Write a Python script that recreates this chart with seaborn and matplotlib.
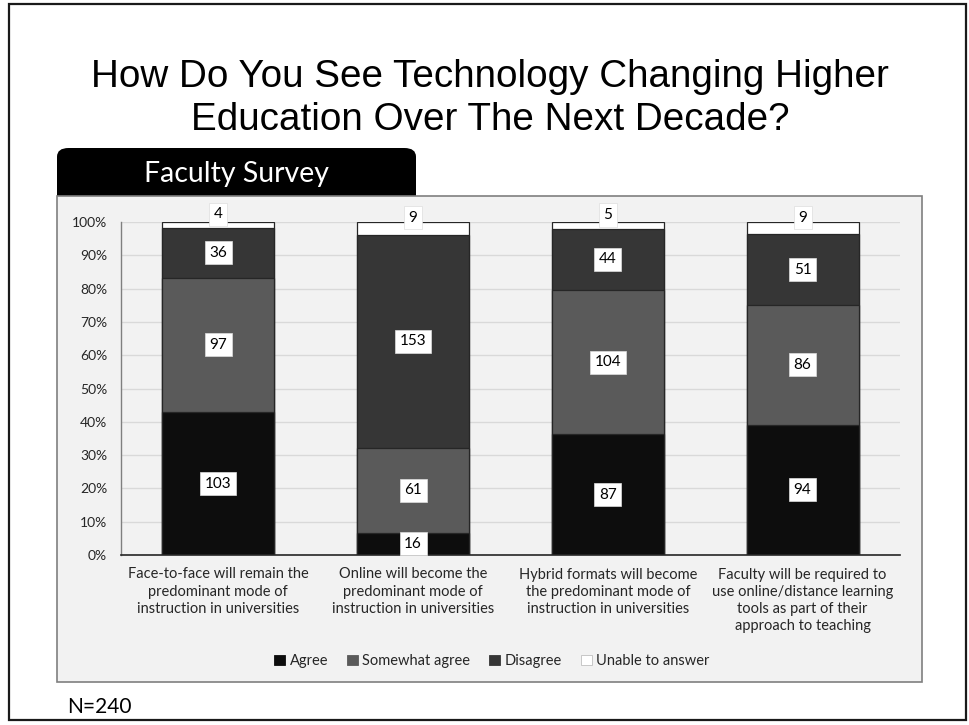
import matplotlib
matplotlib.use("Agg")
import matplotlib.pyplot as plt
from matplotlib.patches import Rectangle, FancyBboxPatch, Patch
from matplotlib.ticker import PercentFormatter
import seaborn as sns
import pandas as pd

# Survey responses (counts)
questions = [
    "Face-to-face will remain the\npredominant mode of\ninstruction in universities",
    "Online will become the\npredominant mode of\ninstruction in universities",
    "Hybrid formats will become\nthe predominant mode of\ninstruction in universities",
    "Faculty will be required to\nuse online/distance learning\ntools as part of their\napproach to teaching",
]
responses = ["Agree", "Somewhat agree", "Disagree", "Unable to answer"]
agree = [103, 16, 87, 94]
somewhat_agree = [97, 61, 104, 86]
disagree = [36, 153, 44, 51]
unable = [4, 9, 5, 9]
colors = ["#0d0d0d", "#5a5a5a", "#363636", "#ffffff"]

sns.set_theme(style="white")
plt.rcParams["font.family"] = ["Lato", "DejaVu Sans"]

W, H = 969, 725
fig = plt.figure(figsize=(W / 100, H / 100), dpi=100)
fig.patch.set_facecolor("white")


def fx(px):
    return px / W


def fy(py):
    return 1 - py / H


# Slide frame
fig.add_artist(Rectangle((fx(9), fy(720)), fx(966) - fx(9), fy(4) - fy(720),
                         transform=fig.transFigure, facecolor="none",
                         edgecolor="#1a1a1a", linewidth=1.6, zorder=-4))
# Black header tab
fig.add_artist(FancyBboxPatch((fx(57), fy(215)), fx(416) - fx(57), fy(148) - fy(215),
                              boxstyle="round,pad=0,rounding_size=0.012",
                              transform=fig.transFigure, facecolor="black",
                              edgecolor="black", linewidth=0, zorder=-3))
# Grey chart panel
fig.add_artist(Rectangle((fx(57), fy(682)), fx(922) - fx(57), fy(196) - fy(682),
                         transform=fig.transFigure, facecolor="#f2f2f2",
                         edgecolor="#7f7f7f", linewidth=1.2, zorder=-2))

fig.text(fx(490), fy(87), "How Do You See Technology Changing Higher",
         ha="center", va="baseline", fontsize=27.8, family="Liberation Sans", color="black")
fig.text(fx(490), fy(130), "Education Over The Next Decade?",
         ha="center", va="baseline", fontsize=27.8, family="Liberation Sans", color="black")
fig.text(fx(237), fy(174), "Faculty Survey", ha="center", va="center",
         fontsize=20.5, color="white", zorder=5)
fig.text(fx(67), fy(713), "N=240", ha="left", va="baseline", fontsize=15, color="black")

# Percent table
counts = pd.DataFrame({"question": questions, "Agree": agree,
                       "Somewhat agree": somewhat_agree, "Disagree": disagree,
                       "Unable to answer": unable})
totals = counts[responses].sum(axis=1)
shares = counts[responses].div(totals, axis=0)
cum = shares.cumsum(axis=1)

ax = fig.add_axes([fx(121), fy(555), fx(900) - fx(121), fy(222) - fy(555)])
ax.patch.set_visible(False)

# Stacked bars: draw cumulative heights from the top layer down
for resp, col in reversed(list(zip(responses, colors))):
    layer = pd.DataFrame({"question": questions, "value": cum[resp].values})
    sns.barplot(data=layer, x="question", y="value", color=col, width=0.575,
                edgecolor="#262626", linewidth=0.9, errorbar=None, ax=ax,
                saturation=1, zorder=2)

# Value labels
for i in range(len(questions)):
    for resp in responses:
        start = cum[resp].iloc[i] - shares[resp].iloc[i]
        mid = start + shares[resp].iloc[i] / 2
        offset = 7.5 if resp == "Unable to answer" else 0
        ax.annotate(str(counts[resp].iloc[i]), (i, mid), xytext=(0, offset),
                    textcoords="offset points", ha="center", va="center",
                    fontsize=11, color="black", zorder=6, annotation_clip=False,
                    bbox=dict(boxstyle="square,pad=0.3", facecolor="white",
                              edgecolor="#dedede", linewidth=0.5))

ax.set_ylim(0, 1)
ax.set_xlim(-0.5, 3.5)
ax.set_yticks([i / 10 for i in range(11)])
ax.yaxis.set_major_formatter(PercentFormatter(1.0, decimals=0))
ax.grid(axis="y", color="#d9d9d9", linewidth=1, zorder=0)
ax.set_axisbelow(True)
ax.set_xlabel("")
ax.set_ylabel("")
ax.tick_params(axis="y", length=0, pad=10, labelsize=10, labelcolor="#262626")
ax.tick_params(axis="x", length=0, pad=9, labelsize=10.5, labelcolor="#262626")
for lbl in ax.get_xticklabels():
    lbl.set_linespacing(1.3)
for side in ["top", "right"]:
    ax.spines[side].set_visible(False)
ax.spines["left"].set_color("#7f7f7f")
ax.spines["left"].set_linewidth(1)
ax.spines["bottom"].set_color("#262626")
ax.spines["bottom"].set_linewidth(1.2)

handles = [Patch(facecolor=c, edgecolor="#bfbfbf" if c == "#ffffff" else c, linewidth=0.6)
           for c in colors]
fig.legend(handles, responses, loc="center", bbox_to_anchor=(fx(492), fy(661)),
           ncol=4, frameon=False, fontsize=10.5, handlelength=0.75, handleheight=0.75,
           handletextpad=0.3, columnspacing=1.3, labelcolor="#262626")

fig.savefig("out.png", dpi=100, facecolor="white")
